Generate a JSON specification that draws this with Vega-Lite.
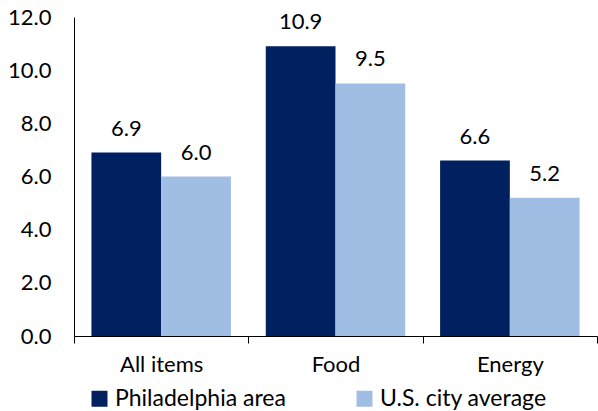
{
  "$schema": "https://vega.github.io/schema/vega-lite/v6.json",
  "width": 523,
  "height": 319,
  "autosize": {"type": "none"},
  "padding": {"left": 74, "top": 17, "right": 1, "bottom": 75},
  "background": "white",
  "config": {
    "view": {"stroke": null},
    "font": "Lato"
  },
  "data": {
    "values": [
      {"category": "All items", "series": "Philadelphia area", "value": 6.9},
      {"category": "All items", "series": "U.S. city average", "value": 6.0},
      {"category": "Food", "series": "Philadelphia area", "value": 10.9},
      {"category": "Food", "series": "U.S. city average", "value": 9.5},
      {"category": "Energy", "series": "Philadelphia area", "value": 6.6},
      {"category": "Energy", "series": "U.S. city average", "value": 5.2}
    ]
  },
  "encoding": {
    "x": {
      "field": "category",
      "type": "nominal",
      "sort": ["All items", "Food", "Energy"],
      "scale": {"paddingInner": 0, "paddingOuter": 0},
      "axis": {
        "title": null,
        "labelAngle": 0,
        "labelFontSize": 22,
        "labelColor": "#000000",
        "labelPadding": 11,
        "tickBand": "extent",
        "tickSize": 7,
        "tickColor": "#000000",
        "domainColor": "#000000",
        "labelFont": "Lato"
      }
    },
    "xOffset": {
      "field": "series",
      "type": "nominal",
      "scale": {"paddingInner": 0, "paddingOuter": 0.25}
    },
    "y": {
      "field": "value",
      "type": "quantitative",
      "scale": {"domain": [0, 12], "nice": false},
      "axis": {
        "title": null,
        "values": [0, 2, 4, 6, 8, 10, 12],
        "format": ".1f",
        "ticks": false,
        "grid": false,
        "labelFontSize": 22,
        "labelColor": "#000000",
        "labelPadding": 23,
        "domainColor": "#000000",
        "labelFont": "Lato"
      }
    }
  },
  "layer": [
    {
      "mark": {"type": "bar"},
      "encoding": {
        "color": {
          "field": "series",
          "type": "nominal",
          "scale": {
            "domain": ["Philadelphia area", "U.S. city average"],
            "range": ["#002060", "#A0BEE4"]
          },
          "legend": {
            "title": null,
            "orient": "none",
            "legendX": 14,
            "legendY": 370,
            "direction": "horizontal",
            "columns": 2,
            "columnPadding": 67,
            "symbolType": "square",
            "symbolSize": 256,
            "symbolStrokeWidth": 0,
            "symbolOffset": 0,
            "labelFontSize": 23,
            "labelColor": "#000000",
            "labelOffset": 4,
            "labelFont": "Lato",
            "labelLimit": 300
          }
        }
      }
    },
    {
      "mark": {"type": "text", "baseline": "bottom", "dy": -12, "fontSize": 22, "color": "#000000", "font": "Lato"},
      "encoding": {
        "text": {"field": "value", "type": "quantitative", "format": ".1f"}
      }
    }
  ]
}
